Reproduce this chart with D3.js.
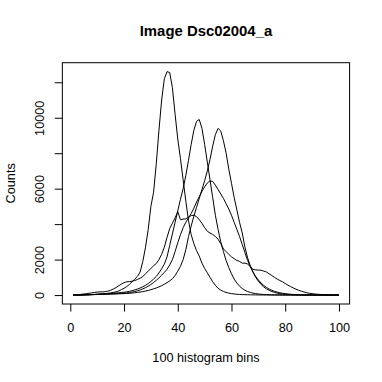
<!DOCTYPE html>
<html>
<head>
<meta charset="utf-8">
<script src="https://cdn.jsdelivr.net/npm/d3@7"></script>
<style>
  body { margin: 0; background: #fff; }
  svg { font-family: "Liberation Sans", Arial, Helvetica, sans-serif; }
</style>
</head>
<body>
<div id="chart"></div>
<script>
// ---- DATA (counts per bin, bins 1..100) ----
const bins = d3.range(1, 101);

const seriesA = [
  0, 0, 5, 10, 15, 20, 25, 30, 40, 50,
  60, 70, 80, 100, 120, 150, 180, 230, 300, 380,
  480, 600, 750, 900, 1050, 1300, 1900, 2700, 3700, 5000,
  5800, 7400, 9300, 11000, 12200, 12600, 12550, 11700, 10200, 8800,
  7700, 6500, 5300, 4200, 3400, 2900, 2500, 2200, 1800, 1500,
  1250, 1000, 750, 550, 380, 280, 200, 150, 110, 80,
  60, 45, 35, 28, 22, 18, 14, 11, 9, 7,
  6, 5, 4, 3, 3, 2, 2, 1, 1, 1,
  1, 0, 0, 0, 0, 0, 0, 0, 0, 0,
  0, 0, 0, 0, 0, 0, 0, 0, 0, 0
];

const seriesB = [
  0, 0, 0, 5, 10, 15, 20, 25, 30, 40,
  50, 60, 70, 80, 90, 100, 115, 130, 145, 160,
  180, 210, 250, 290, 340, 400, 470, 550, 650, 770,
  900, 1050, 1250, 1480, 1740, 2150, 2800, 3450, 4100, 4750,
  5400, 6000, 6750, 7600, 8500, 9300, 9800, 9900, 9400, 8500,
  7500, 6500, 5500, 4500, 3700, 3000, 2450, 1950, 1550, 1200,
  900, 680, 500, 370, 270, 200, 150, 110, 80, 60,
  45, 35, 27, 20, 15, 11, 8, 6, 5, 4,
  3, 3, 2, 2, 1, 1, 1, 1, 0, 0,
  0, 0, 0, 0, 0, 0, 0, 0, 0, 0
];

const seriesC = [
  0, 0, 0, 0, 5, 10, 15, 20, 25, 30,
  35, 40, 45, 50, 55, 60, 65, 70, 75, 80,
  90, 100, 115, 130, 150, 170, 195, 225, 260, 300,
  350, 400, 460, 530, 610, 700, 800, 920, 1100, 1350,
  1620, 2000, 2550, 3300, 3900, 4450, 4950, 5450, 5950, 6450,
  7000, 7650, 8400, 9050, 9400, 9250, 8700, 8000, 7100, 6300,
  5500, 4800, 4100, 3500, 2700, 2100, 1650, 1300, 1000, 780,
  600, 460, 350, 270, 200, 150, 110, 80, 60, 45,
  35, 28, 22, 17, 13, 10, 8, 6, 5, 4,
  3, 3, 2, 2, 1, 1, 1, 0, 0, 0
];

const seriesD = [
  0, 0, 0, 5, 10, 15, 20, 25, 30, 40,
  45, 50, 55, 60, 65, 70, 80, 90, 100, 110,
  120, 140, 170, 200, 240, 290, 350, 420, 500, 600,
  710, 830, 970, 1120, 1280, 1450, 1700, 2000, 2450, 2950,
  3400, 3800, 4100, 4350, 4600, 4900, 5250, 5550, 5850, 6100,
  6320, 6440, 6400, 6200, 5950, 5700, 5450, 5150, 4850, 4500,
  4100, 3700, 3300, 2850, 2400, 1950, 1600, 1300, 1050, 850,
  680, 540, 430, 340, 270, 210, 170, 130, 100, 80,
  60, 45, 35, 28, 22, 17, 13, 10, 8, 6,
  5, 4, 3, 2, 2, 1, 1, 1, 0, 0
];

const seriesE = [
  0, 5, 20, 40, 60, 80, 100, 120, 150, 170,
  180, 180, 190, 220, 270, 340, 420, 520, 620, 700,
  750, 760, 780, 820, 880, 950, 1050, 1200, 1350, 1500,
  1650, 1780, 2000, 2300, 2700, 3250, 3750, 4050, 4350, 4700,
  4250, 4280, 4300, 4400, 4480, 4500, 4420, 4250, 4050, 3800,
  3600, 3500, 3420, 3300, 3150, 2900, 2600, 2450, 2300, 2150,
  2050, 1950, 1900, 1800, 1800, 1750, 1600, 1450, 1420, 1410,
  1400, 1350, 1300, 1200, 1100, 1000, 900, 820, 750, 650,
  560, 480, 400, 330, 270, 220, 170, 130, 100, 80,
  60, 45, 35, 25, 20, 15, 10, 8, 5, 3
];

const allSeries = [seriesA, seriesB, seriesC, seriesD, seriesE];

const xTicks = [0, 20, 40, 60, 80, 100];
const yTicks = [0, 2000, 4000, 6000, 8000, 10000, 12000];
const yLabelled = [0, 2000, 6000, 10000];

const titleText = "Image Dsc02004_a";
const xLabel = "100 histogram bins";
const yLabel = "Counts";

// ---- SIZE ----
const width = 382;
const height = 382;
const margin = { top: 62.7, right: 32.4, bottom: 78, left: 62.35 };
const fontAxis = 12.7;

const svg = d3.select("#chart")
  .append("svg")
  .attr("width", width)
  .attr("height", height);

// ---- SCALES (R style 4% padding) ----
const xMin = d3.min(bins), xMax = d3.max(bins);
const xPad = (xMax - xMin) * 0.04;
const x = d3.scaleLinear()
  .domain([xMin - xPad, xMax + xPad])
  .range([margin.left, width - margin.right]);

const yMax = d3.max(allSeries, s => d3.max(s));
const yPad = yMax * 0.04;
const y = d3.scaleLinear()
  .domain([0 - yPad, yMax + yPad])
  .range([height - margin.bottom, margin.top]);

// ---- LINES ----
const line = d3.line()
  .x((d, i) => x(bins[i]))
  .y(d => y(d));

svg.selectAll("path.series")
  .data(allSeries)
  .enter()
  .append("path")
  .attr("class", "series")
  .attr("d", line)
  .attr("fill", "none")
  .attr("stroke", "#000")
  .attr("stroke-width", 1);

// ---- BOX ----
svg.append("rect")
  .attr("x", margin.left)
  .attr("y", margin.top)
  .attr("width", width - margin.right - margin.left)
  .attr("height", height - margin.bottom - margin.top)
  .attr("fill", "none")
  .attr("stroke", "#000");

// ---- AXES ----
const gx = svg.append("g")
  .attr("transform", `translate(0,${height - margin.bottom})`)
  .call(d3.axisBottom(x).tickValues(xTicks).tickSize(7.6).tickSizeOuter(0));
gx.select(".domain").remove();
gx.selectAll("text")
  .attr("y", 28)
  .attr("dy", 0)
  .attr("font-size", fontAxis)
  .attr("font-family", "Liberation Sans, Arial, sans-serif")
  .attr("fill", "#000");

const gy = svg.append("g")
  .attr("transform", `translate(${margin.left},0)`)
  .call(d3.axisLeft(y).tickValues(yTicks).tickSize(7.6).tickSizeOuter(0)
    .tickFormat(d => yLabelled.includes(d) ? d : ""));
gy.select(".domain").remove();
gy.selectAll("text")
  .attr("transform", "rotate(-90)")
  .attr("x", 0)
  .attr("y", -18.4)
  .attr("dy", 0)
  .attr("text-anchor", "middle")
  .attr("font-size", fontAxis)
  .attr("font-family", "Liberation Sans, Arial, sans-serif")
  .attr("fill", "#000");

// ---- TITLES ----
svg.append("text")
  .attr("x", (margin.left + width - margin.right) / 2)
  .attr("y", 36)
  .attr("text-anchor", "middle")
  .attr("font-size", 14.9)
  .attr("font-weight", "bold")
  .text(titleText);

svg.append("text")
  .attr("x", (margin.left + width - margin.right) / 2)
  .attr("y", 362)
  .attr("text-anchor", "middle")
  .attr("font-size", fontAxis)
  .text(xLabel);

svg.append("text")
  .attr("transform", `translate(14.5,${(margin.top + height - margin.bottom) / 2}) rotate(-90)`)
  .attr("text-anchor", "middle")
  .attr("font-size", fontAxis)
  .text(yLabel);
</script>
</body>
</html>
